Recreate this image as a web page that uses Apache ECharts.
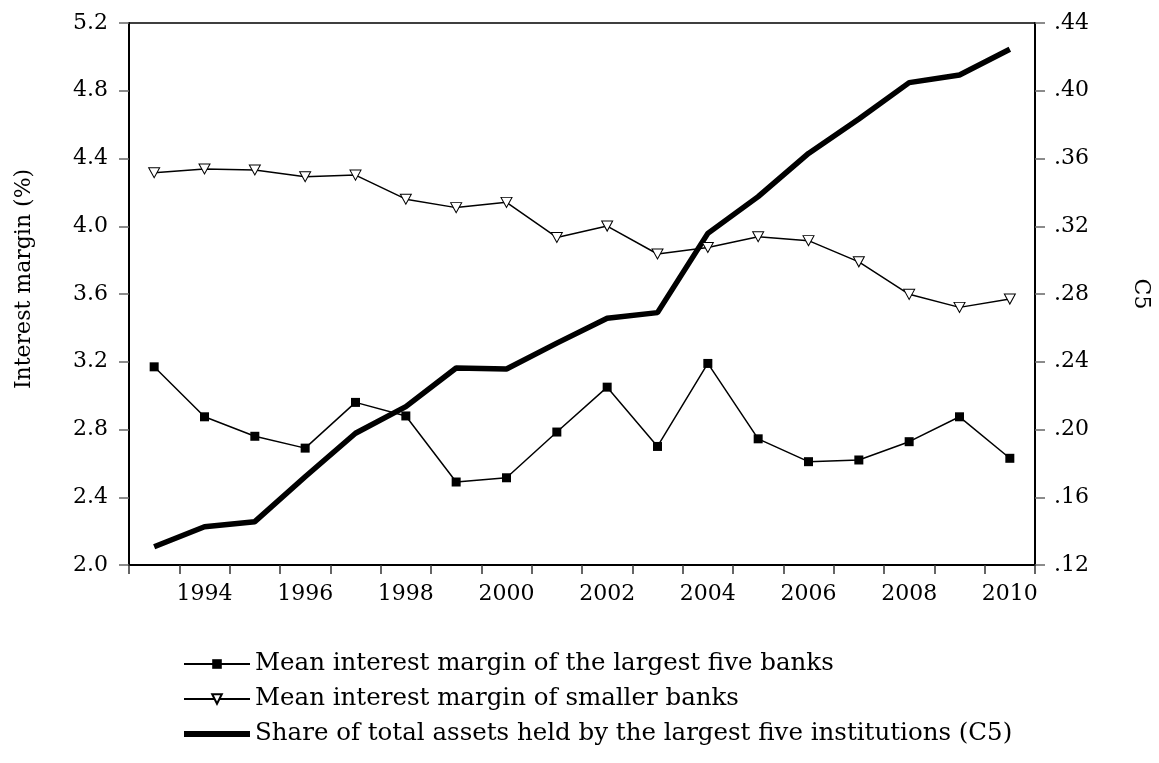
<!DOCTYPE html>
<html>
<head>
<meta charset="utf-8">
<script src="https://cdn.jsdelivr.net/npm/echarts@6/dist/echarts.min.js"></script>
<style>
  html, body { margin: 0; padding: 0; background: #fff; }
  #main { width: 1159px; height: 763px; }
</style>
</head>
<body>
<div id="main"></div>
<script>
// data
var years = ['1993','1994','1995','1996','1997','1998','1999','2000','2001',
             '2002','2003','2004','2005','2006','2007','2008','2009','2010'];
var largestFive = [3.17, 2.875, 2.76, 2.69, 2.96, 2.88, 2.49, 2.515, 2.785,
                   3.05, 2.70, 3.19, 2.745, 2.61, 2.62, 2.728, 2.875, 2.63];
var smallerBanks = [4.316, 4.338, 4.332, 4.292, 4.302, 4.16, 4.11, 4.141, 3.934,
                    4.001, 3.836, 3.875, 3.938, 3.915, 3.79, 3.598, 3.521, 3.57];
var c5 = [0.1308, 0.1426, 0.1456, 0.1721, 0.1978, 0.2135, 0.2363, 0.2357, 0.251,
          0.2657, 0.269, 0.3158, 0.3375, 0.363, 0.3833, 0.4048, 0.4093, 0.4245];

var names = ['Mean interest margin of the largest five banks',
             'Mean interest margin of smaller banks',
             'Share of total assets held by the largest five institutions (C5)'];

var font = 'DejaVu Serif';
var triDown = 'path://M0,0 L10,0 L5,9 Z';

var myChart = echarts.init(document.getElementById('main'));
var option = {
    backgroundColor: '#fff',
    animation: false,
    textStyle: { fontFamily: font, color: '#000' },
    grid: {
        left: 129, right: 124, top: 23, bottom: 198,
        outerBoundsMode: 'none',
        containLabel: false,
        show: true, borderColor: '#000', borderWidth: 1.5
    },
    legend: {
        orient: 'vertical',
        left: 183, top: 651,
        padding: 0,
        itemWidth: 66, itemHeight: 12, itemGap: 9,
        selectedMode: false,
        textStyle: { fontFamily: font, fontSize: 24.5, color: '#000', lineHeight: 26 },
        data: [
            names[0],
            names[1],
            { name: names[2], icon: 'path://M0,0 H66 V6 H0 Z', symbolKeepAspect: true,
              itemStyle: { color: '#000' } }
        ]
    },
    xAxis: {
        type: 'category',
        data: years,
        boundaryGap: true,
        axisLine: { lineStyle: { color: '#000', width: 2 } },
        axisTick: { show: true, interval: 0, alignWithLabel: false, length: 9,
                    lineStyle: { color: '#333', width: 1.5 } },
        axisLabel: {
            interval: function (i) { return i % 2 === 1; },
            fontFamily: font, fontSize: 22, color: '#000', margin: 18
        },
        splitLine: { show: false }
    },
    yAxis: [{
        type: 'value',
        min: 2.0, max: 5.2, interval: 0.4,
        name: 'Interest margin (%)',
        nameLocation: 'middle', nameGap: 94, nameRotate: 90,
        nameTextStyle: { fontFamily: font, fontSize: 22, color: '#000', padding: [0, 0, 0, 30] },
        axisLine: { show: true, lineStyle: { color: '#000', width: 2 } },
        axisTick: { show: true, length: 10, lineStyle: { color: '#666', width: 1.5 } },
        axisLabel: {
            fontFamily: font, fontSize: 22, color: '#000', margin: 21,
            formatter: function (v) { return v.toFixed(1); }
        },
        splitLine: { show: false }
    }, {
        type: 'value',
        min: 0.12, max: 0.44, interval: 0.04,
        name: 'C5',
        nameLocation: 'middle', nameGap: 95, nameRotate: -90,
        nameTextStyle: { fontFamily: font, fontSize: 22, color: '#000' },
        axisLine: { show: true, lineStyle: { color: '#000', width: 2 } },
        axisTick: { show: true, length: 10, lineStyle: { color: '#666', width: 1.5 } },
        axisLabel: {
            fontFamily: font, fontSize: 22, color: '#000', margin: 19,
            formatter: function (v) { return v.toFixed(2).replace(/^0/, ''); }
        },
        splitLine: { show: false }
    }],
    series: [{
        name: names[0],
        type: 'line',
        data: largestFive,
        z: 3,
        symbol: 'rect',
        symbolSize: 9,
        showAllSymbol: true,
        itemStyle: { color: '#000', borderColor: '#000', borderWidth: 0 },
        lineStyle: { color: '#000', width: 1.5 }
    }, {
        name: names[1],
        type: 'line',
        data: smallerBanks,
        z: 3,
        symbol: triDown,
        symbolSize: [11, 10],
        showAllSymbol: true,
        itemStyle: { color: '#fff', borderColor: '#000', borderWidth: 1 },
        lineStyle: { color: '#000', width: 1.5 }
    }, {
        name: names[2],
        type: 'line',
        yAxisIndex: 1,
        data: c5,
        z: 2,
        symbol: 'none',
        itemStyle: { color: '#000' },
        lineStyle: { color: '#000', width: 5.5 }
    }]
};
myChart.setOption(option);
</script>
</body>
</html>
